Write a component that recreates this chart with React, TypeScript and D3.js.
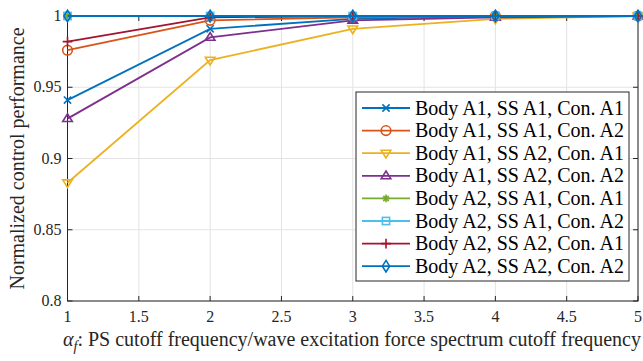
import React from 'react';
import * as d3 from 'd3';

const xs = [1, 2, 3, 4, 5];
const seriesNames = [
  'Body A1, SS A1, Con. A1',
  'Body A1, SS A1, Con. A2',
  'Body A1, SS A2, Con. A1',
  'Body A1, SS A2, Con. A2',
  'Body A2, SS A1, Con. A1',
  'Body A2, SS A1, Con. A2',
  'Body A2, SS A2, Con. A1',
  'Body A2, SS A2, Con. A2',
];
const s1 = [0.941, 0.991, 0.998, 1.0, 1.0];
const s2 = [0.976, 0.997, 0.999, 1.0, 1.0];
const s3 = [0.883, 0.969, 0.991, 0.998, 1.0];
const s4 = [0.928, 0.985, 0.997, 0.999, 1.0];
const s5 = [1.0, 1.0, 1.0, 1.0, 1.0];
const s6 = [1.0, 1.0, 1.0, 1.0, 1.0];
const s7 = [0.982, 0.999, 1.0, 1.0, 1.0];
const s8 = [1.0, 1.0, 1.0, 1.0, 1.0];
const seriesValues = [s1, s2, s3, s4, s5, s6, s7, s8];
const colors = ['#0072BD', '#D95319', '#EDB120', '#7E2F8E', '#77AC30', '#4DBEEE', '#A2142F', '#0072BD'];
const markers = ['x', 'o', 'v', '^', '*', 's', '+', 'd'];
const xTicks = [1, 1.5, 2, 2.5, 3, 3.5, 4, 4.5, 5];
const yTicks = [0.8, 0.85, 0.9, 0.95, 1];

const FONT = '"Liberation Serif", "Times New Roman", serif';

function Marker({ type, x, y, color }: { type: string; x: number; y: number; color: string }) {
  const r = 4.8;
  const common = { fill: 'none', stroke: color, strokeWidth: 1.6 };
  switch (type) {
    case 'x':
      return <path d={`M${x - r * 0.75},${y - r * 0.75}L${x + r * 0.75},${y + r * 0.75}M${x - r * 0.75},${y + r * 0.75}L${x + r * 0.75},${y - r * 0.75}`} {...common} />;
    case 'o':
      return <circle cx={x} cy={y} r={r} {...common} />;
    case 'v':
      return <path d={`M${x - r},${y - r * 0.6}L${x + r},${y - r * 0.6}L${x},${y + r}Z`} {...common} />;
    case '^':
      return <path d={`M${x - r},${y + r * 0.6}L${x + r},${y + r * 0.6}L${x},${y - r}Z`} {...common} />;
    case '*': {
      const a = r * 0.8;
      return <path d={`M${x - a},${y}L${x + a},${y}M${x},${y - a}L${x},${y + a}M${x - a * 0.7},${y - a * 0.7}L${x + a * 0.7},${y + a * 0.7}M${x - a * 0.7},${y + a * 0.7}L${x + a * 0.7},${y - a * 0.7}`} {...common} />;
    }
    case 's':
      return <rect x={x - r * 0.75} y={y - r * 0.75} width={r * 1.5} height={r * 1.5} {...common} />;
    case '+':
      return <path d={`M${x - r},${y}L${x + r},${y}M${x},${y - r}L${x},${y + r}`} {...common} />;
    case 'd':
      return <path d={`M${x},${y - r * 1.2}L${x + r * 0.75},${y}L${x},${y + r * 1.2}L${x - r * 0.75},${y}Z`} {...common} />;
    default:
      return null;
  }
}

export default function App() {
  const W = 643, H = 361;
  const left = 67.5, right = 638, top = 16, bottom = 301;
  const x = d3.scaleLinear().domain([1, 5]).range([left, right]);
  const y = d3.scaleLinear().domain([0.8, 1]).range([bottom, top]);
  const line = d3.line<number>().x((_, i) => x(xs[i])).y((d) => y(d));
  const tickLen = 5;

  const legX = 356, legY = 92, legW = 273, legH = 189;
  const rowH = 22.6;
  const row0 = 108;

  return (
    <svg width={W} height={H} style={{ position: 'absolute', left: 0, top: 0, background: '#fff' }} fontFamily={FONT}>
      <rect x={0} y={0} width={W} height={H} fill="#fff" />
      {xTicks.map((t) => (
        <line key={'gx' + t} x1={x(t)} x2={x(t)} y1={top} y2={bottom} stroke="#e3e3e3" strokeWidth={1} />
      ))}
      {yTicks.map((t) => (
        <line key={'gy' + t} x1={left} x2={right} y1={y(t)} y2={y(t)} stroke="#e3e3e3" strokeWidth={1} />
      ))}
      <rect x={left} y={top} width={right - left} height={bottom - top} fill="none" stroke="#262626" strokeWidth={1} />
      {xTicks.map((t) => (
        <g key={'tx' + t}>
          <line x1={x(t)} x2={x(t)} y1={bottom} y2={bottom - tickLen} stroke="#262626" />
          <line x1={x(t)} x2={x(t)} y1={top} y2={top + tickLen} stroke="#262626" />
          <text x={x(t)} y={bottom + 21} fontSize={16} textAnchor="middle" fill="#262626">{String(t)}</text>
        </g>
      ))}
      {yTicks.map((t) => (
        <g key={'ty' + t}>
          <line x1={left} x2={left + tickLen} y1={y(t)} y2={y(t)} stroke="#262626" />
          <line x1={right} x2={right - tickLen} y1={y(t)} y2={y(t)} stroke="#262626" />
          <text x={left - 6} y={y(t) + 5} fontSize={16} textAnchor="end" fill="#262626">{String(t)}</text>
        </g>
      ))}
      {seriesValues.map((vals, si) => (
        <g key={'s' + si}>
          <path d={line(vals) || ''} fill="none" stroke={colors[si]} strokeWidth={1.8} />
          {vals.map((v, i) => (
            <Marker key={i} type={markers[si]} x={x(xs[i])} y={y(v)} color={colors[si]} />
          ))}
        </g>
      ))}
      <rect x={legX} y={legY} width={legW} height={legH} fill="#fff" stroke="#262626" strokeWidth={1} />
      {seriesNames.map((n, i) => {
        const cy = row0 + i * rowH;
        return (
          <g key={'l' + i}>
            <line x1={362} x2={410} y1={cy} y2={cy} stroke={colors[i]} strokeWidth={1.8} />
            <Marker type={markers[i]} x={386} y={cy} color={colors[i]} />
            <text x={415} y={cy + 6.5} fontSize={20} fill="#000">{n}</text>
          </g>
        );
      })}
      <text transform={`translate(24, ${(top + bottom) / 2}) rotate(-90)`} fontSize={20} textAnchor="middle" fill="#262626">Normalized control performance</text>
      <text x={352} y={346} fontSize={20} textAnchor="middle" fill="#262626">
        <tspan fontStyle="italic">α</tspan>
        <tspan fontStyle="italic" fontSize={14} dy={5}>f</tspan>
        <tspan dy={-5}>: PS cutoff frequency/wave excitation force spectrum cutoff frequency</tspan>
      </text>
    </svg>
  );
}
